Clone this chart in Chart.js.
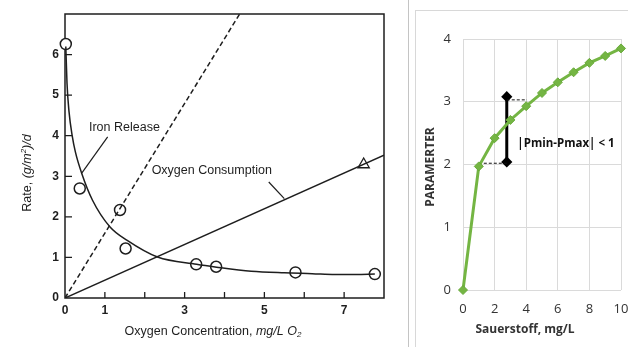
<!DOCTYPE html>
<html>
<head>
<meta charset="utf-8">
<script src="https://cdn.jsdelivr.net/npm/chart.js@4.4.1/dist/chart.umd.min.js"></script>
<style>
    html, body { margin: 0; padding: 0; background: #fff; }
    #wrap { position: relative; width: 628px; height: 347px; overflow: hidden; background: #fff; }
    #leftChart { position: absolute; left: 0; top: 0; }
    #sep { position: absolute; left: 408px; top: 0; width: 1px; height: 347px; background: #c4c4c4; }
    #panel { position: absolute; left: 415px; top: 10px; width: 220px; height: 345px; border-left: 1px solid #d8d8d8; border-top: 1px solid #d8d8d8; }
    #rightChart { position: absolute; left: 415px; top: 10px; }
</style>
</head>
<body>
<div id="wrap">
    <canvas id="leftChart" width="408" height="347"></canvas>
    <div id="sep"></div>
    <div id="panel"></div>
    <canvas id="rightChart" width="213" height="337"></canvas>
</div>
<script>
// ---------- left chart: iron release / oxygen consumption ----------
const ironCurveX = [0.02, 0.05, 0.10, 0.18, 0.26, 0.42, 0.69, 1.13, 1.56, 2.32, 3.30, 3.80, 4.67, 5.50, 6.20, 6.77, 7.30, 7.77];
const ironCurveY = [6.20, 5.30, 4.60, 4.00, 3.60, 3.07, 2.41, 1.75, 1.42, 1.01, 0.83, 0.76, 0.66, 0.62, 0.60, 0.58, 0.58, 0.59];
const ironObsX = [0.02, 0.37, 1.38, 1.52, 3.29, 3.79, 5.78, 7.77];
const ironObsY = [6.26, 2.70, 2.17, 1.22, 0.83, 0.77, 0.63, 0.59];
const oxyObsX = [7.49];
const oxyObsY = [3.29];
const oxyLineX = [0, 8];
const oxyLineY = [0, 3.52];
const dashLineX = [0, 4.38];
const dashLineY = [0, 7];
const ironLeaderX = [1.07, 0.42];
const ironLeaderY = [3.97, 3.08];
const oxyLeaderX = [5.11, 5.50];
const oxyLeaderY = [2.86, 2.45];
const leftXTicks = [1, 2, 3, 4, 5, 6, 7];
const leftYTicks = [1, 2, 3, 4, 5, 6];
const leftXLabels = [0, 1, 3, 5, 7];

// ---------- right chart: Sauerstoff / Parameter ----------
const o2Levels = [0, 1, 2, 3, 4, 5, 6, 7, 8, 9, 10];
const paramValues = [0, 1.97, 2.42, 2.71, 2.93, 3.14, 3.31, 3.47, 3.62, 3.73, 3.85];
const spanX = [2.77, 2.77];
const spanY = [2.04, 3.08];
const guideLowX = [1.0, 2.77];
const guideLowY = [2.02, 2.02];
const guideHighX = [2.77, 4.05];
const guideHighY = [3.03, 3.03];

const toPoints = (xs, ys) => xs.map((x, i) => ({ x: x, y: ys[i] }));

const SANS = "'Liberation Sans', Arial, sans-serif";
const CAL = "'Open Sans', 'Noto Sans', sans-serif";
const INK = "#1e1e1e";

// draw text pieces with mixed styles, centred on (cx, cy)
function drawRuns(ctx, runs, cx, cy) {
    let total = 0;
    runs.forEach((r) => {
        ctx.font = r.font;
        r.w = ctx.measureText(r.text).width;
        total += r.w;
    });
    let x = cx - total / 2;
    ctx.textAlign = "left";
    ctx.textBaseline = "middle";
    runs.forEach((r) => {
        ctx.font = r.font;
        ctx.fillText(r.text, x, cy + (r.dy || 0));
        x += r.w;
    });
}

// Frame and inward tick marks (left chart)
const framePlugin = {
    id: "frameTicks",
    beforeDatasetsDraw: (chart) => {
        const { ctx, chartArea: a, scales } = chart;
        ctx.save();
        ctx.strokeStyle = INK;
        ctx.lineWidth = 1.5;
        ctx.strokeRect(a.left, a.top, a.right - a.left, a.bottom - a.top);
        ctx.lineWidth = 1.3;
        ctx.beginPath();
        leftXTicks.forEach((v) => {
            const px = scales.x.getPixelForValue(v);
            ctx.moveTo(px, a.bottom);
            ctx.lineTo(px, a.bottom - 6);
        });
        leftYTicks.forEach((v) => {
            const py = scales.y.getPixelForValue(v);
            ctx.moveTo(a.left, py);
            ctx.lineTo(a.left + 7, py);
        });
        ctx.stroke();
        ctx.restore();
    },
    afterDraw: (chart) => {
        const { ctx, scales } = chart;
        ctx.save();
        ctx.fillStyle = INK;
        ctx.font = "12.5px " + SANS;
        ctx.textAlign = "center";
        ctx.textBaseline = "middle";
        ctx.fillText("Iron Release", scales.x.getPixelForValue(1.49), scales.y.getPixelForValue(4.19));
        ctx.fillText("Oxygen Consumption", scales.x.getPixelForValue(3.68), scales.y.getPixelForValue(3.13));

        // axis titles
        const it = "italic 12.5px " + SANS;
        drawRuns(ctx, [
            { text: "Oxygen Concentration, ", font: "12.5px " + SANS },
            { text: "mg/L O", font: it },
            { text: "2", font: "italic 8px " + SANS, dy: 3 },
        ], 213, 332);

        ctx.translate(28, 173);
        ctx.rotate(-Math.PI / 2);
        drawRuns(ctx, [
            { text: "Rate, ", font: "12.5px " + SANS },
            { text: "(g/m", font: it },
            { text: "2", font: "italic 8px " + SANS, dy: -4 },
            { text: ")/d", font: it },
        ], 0, 0);
        ctx.restore();
    },
};

new Chart(document.getElementById("leftChart").getContext("2d"), {
    type: "scatter",
    data: {
        datasets: [
            {
                data: toPoints(ironCurveX, ironCurveY),
                showLine: true,
                borderColor: INK,
                borderWidth: 1.5,
                pointRadius: 0,
                cubicInterpolationMode: "monotone",
            },
            {
                data: toPoints(dashLineX, dashLineY),
                showLine: true,
                borderColor: INK,
                borderWidth: 1.5,
                borderDash: [5, 3],
                pointRadius: 0,
            },
            {
                data: toPoints(oxyLineX, oxyLineY),
                showLine: true,
                borderColor: INK,
                borderWidth: 1.5,
                pointRadius: 0,
            },
            {
                data: toPoints(ironLeaderX, ironLeaderY),
                showLine: true,
                borderColor: INK,
                borderWidth: 1.2,
                pointRadius: 0,
            },
            {
                data: toPoints(oxyLeaderX, oxyLeaderY),
                showLine: true,
                borderColor: INK,
                borderWidth: 1.2,
                pointRadius: 0,
            },
            {
                data: toPoints(ironObsX, ironObsY),
                pointStyle: "circle",
                pointRadius: 5.5,
                pointBackgroundColor: "#fff",
                pointBorderColor: INK,
                pointBorderWidth: 1.5,
                clip: false,
            },
            {
                data: toPoints(oxyObsX, oxyObsY),
                pointStyle: "triangle",
                pointRadius: 6.5,
                pointBackgroundColor: "#fff",
                pointBorderColor: INK,
                pointBorderWidth: 1.3,
                clip: false,
            },
        ],
    },
    options: {
        responsive: false,
        animation: false,
        events: [],
        layout: { padding: { left: 0, top: 14, right: 24, bottom: 0 } },
        plugins: { legend: { display: false }, tooltip: { enabled: false } },
        scales: {
            x: {
                type: "linear",
                min: 0,
                max: 8,
                grid: { display: false, drawTicks: false },
                border: { display: false },
                ticks: {
                    stepSize: 1,
                    padding: 5,
                    color: INK,
                    font: { family: SANS, size: 12, weight: "bold" },
                    callback: (v) => (leftXLabels.includes(v) ? v : ""),
                },
                afterFit: (s) => { s.height = 49; s.paddingLeft = 0; s.paddingRight = 0; },
            },
            y: {
                min: 0,
                max: 7,
                grid: { display: false, drawTicks: false },
                border: { display: false },
                ticks: {
                    stepSize: 1,
                    padding: 6,
                    color: INK,
                    font: { family: SANS, size: 12, weight: "bold" },
                    callback: (v) => (v <= 6 ? v : ""),
                },
                afterFit: (s) => { s.width = 65; s.paddingTop = 0; s.paddingBottom = 0; },
            },
        },
    },
    plugins: [framePlugin],
});

// Titles and the annotation text (right chart)
const rightTextPlugin = {
    id: "rightText",
    afterDraw: (chart) => {
        const { ctx, scales } = chart;
        ctx.save();
        ctx.fillStyle = "#111";
        ctx.font = "bold 11.5px " + CAL;
        ctx.textAlign = "left";
        ctx.textBaseline = "middle";
        ctx.fillText("|Pmin-Pmax| < 1", scales.x.getPixelForValue(3.44), scales.y.getPixelForValue(2.33));

        ctx.fillStyle = "#333";
        ctx.font = "bold 12px " + CAL;
        ctx.textAlign = "center";
        ctx.fillText("Sauerstoff, mg/L", 110, 320);
        ctx.translate(16, 157);
        ctx.rotate(-Math.PI / 2);
        ctx.fillText("PARAMERTER", 0, 0);
        ctx.restore();
    },
};

new Chart(document.getElementById("rightChart").getContext("2d"), {
    type: "scatter",
    data: {
        datasets: [
            {
                data: toPoints(o2Levels, paramValues),
                showLine: true,
                borderColor: "#74b543",
                borderWidth: 3,
                pointStyle: "rectRot",
                pointRadius: 4.5,
                pointBackgroundColor: "#74b543",
                pointBorderColor: "#68aa3a",
                pointBorderWidth: 1,
                clip: false,
            },
            {
                data: toPoints(guideLowX, guideLowY),
                showLine: true,
                borderColor: "#111",
                borderWidth: 1,
                borderDash: [3, 2],
                pointRadius: 0,
            },
            {
                data: toPoints(guideHighX, guideHighY),
                showLine: true,
                borderColor: "#111",
                borderWidth: 1,
                borderDash: [3, 2],
                pointRadius: 0,
            },
            {
                data: toPoints(spanX, spanY),
                showLine: true,
                borderColor: "#000",
                borderWidth: 3,
                pointStyle: "rectRot",
                pointRadius: 3.5,
                pointBackgroundColor: "#000",
                pointBorderColor: "#000",
            },
        ],
    },
    options: {
        responsive: false,
        animation: false,
        events: [],
        layout: { padding: { left: 0, top: 29, right: 5, bottom: 0 } },
        plugins: { legend: { display: false }, tooltip: { enabled: false } },
        scales: {
            x: {
                type: "linear",
                min: 0,
                max: 10,
                grid: { color: "#dadada", drawTicks: false },
                border: { display: false },
                ticks: {
                    stepSize: 2,
                    padding: 11,
                    color: "#333",
                    font: { family: CAL, size: 13 },
                },
                afterFit: (s) => { s.height = 57; s.paddingLeft = 0; s.paddingRight = 0; },
            },
            y: {
                min: 0,
                max: 4,
                grid: { color: "#dadada", drawTicks: false },
                border: { display: false },
                ticks: {
                    stepSize: 1,
                    padding: 12,
                    color: "#333",
                    font: { family: CAL, size: 13 },
                },
                afterFit: (s) => { s.width = 48; s.paddingTop = 0; s.paddingBottom = 0; },
            },
        },
    },
    plugins: [rightTextPlugin],
});
</script>
</body>
</html>
